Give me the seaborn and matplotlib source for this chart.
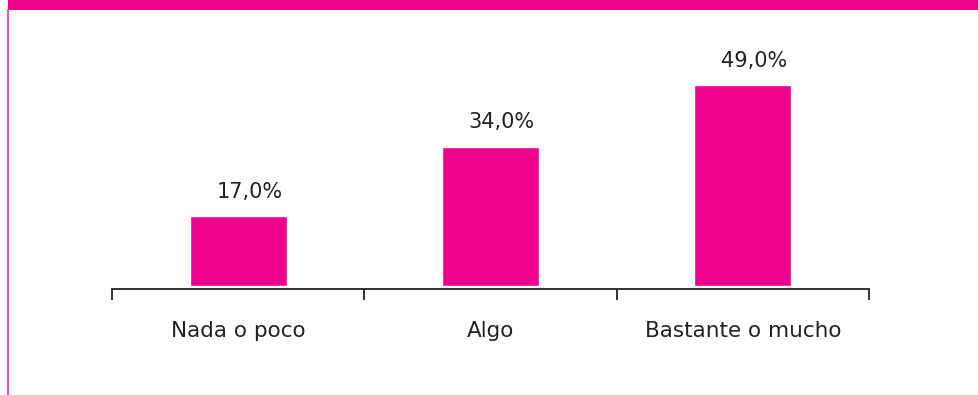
import matplotlib
matplotlib.use("Agg")
import matplotlib.pyplot as plt
from matplotlib.patches import Rectangle
from matplotlib.lines import Line2D
import seaborn as sns
import pandas as pd

categories = ["Nada o poco", "Algo", "Bastante o mucho"]
values = [17.0, 34.0, 49.0]
value_labels = ["17,0%", "34,0%", "49,0%"]

MAGENTA = "#EC008C"

sns.set_style("white")
plt.rcParams["font.family"] = ["DejaVu Sans"]

W, H = 979, 395
fig = plt.figure(figsize=(W / 100, H / 100), dpi=100)

# axes placed in pixel terms: x from 112 to 869, bottom line at y=289
ax = fig.add_axes([112 / W, (H - 289) / H, (869 - 112) / W, (289 - 20) / H])

df = pd.DataFrame({"cat": categories, "val": values})
sns.barplot(data=df, x="cat", y="val", color=MAGENTA, width=0.385,
            saturation=1, ax=ax)

ax.set_xlim(-0.5, 2.5)
ax.set_ylim(-0.75, 65)
ax.set_xlabel("")
ax.set_ylabel("")
ax.set_yticks([])

# boundary ticks between categories, labels on minor ticks
ax.set_xticks([-0.5, 0.5, 1.5, 2.5])
ax.set_xticklabels([])
ax.tick_params(axis="x", which="major", direction="out", length=8,
               width=1.3, color="#222222", bottom=True)
ax.set_xticks([0, 1, 2], minor=True)
ax.set_xticklabels(categories, minor=True)
ax.tick_params(axis="x", which="minor", length=0, pad=23,
               labelsize=15.5, labelcolor="#222222")

for s in ["top", "right", "left"]:
    ax.spines[s].set_visible(False)
ax.spines["bottom"].set_color("#222222")
ax.spines["bottom"].set_linewidth(1.3)

for i, (v, lab) in enumerate(zip(values, value_labels)):
    ax.annotate(lab, xy=(i, v), xytext=(8, 13.5), textcoords="offset points",
                ha="center", va="baseline", fontsize=15, color="#222222")

# frame decoration: top band and left rule
fig.patches.append(Rectangle((8 / W, (H - 10) / H), 1 - 8 / W, 10 / H,
                             transform=fig.transFigure, facecolor=MAGENTA,
                             edgecolor="none"))
fig.lines.append(Line2D([8.5 / W, 8.5 / W], [0, (H - 10) / H],
                        transform=fig.transFigure, color="#F050B0", lw=1.5))

fig.savefig("out.png", dpi=100, facecolor="white")
